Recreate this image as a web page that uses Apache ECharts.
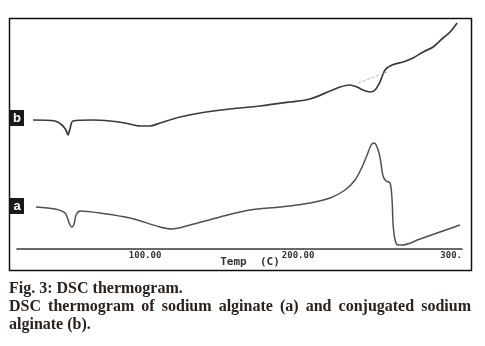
<!DOCTYPE html>
<html><head><meta charset="utf-8">
<script src="https://cdn.jsdelivr.net/npm/echarts@6/dist/echarts.min.js"></script>
<style>html,body{margin:0;padding:0;background:#fff}#c{width:485px;height:346px}</style>
</head><body><div id="c"></div>
<script>
// Temperature (°C) vs heat flow (arbitrary units)
var curveA = [[28.7,42],[41.1,40],[47.7,36],[50.9,24],[52.2,22],[53.6,25],[54.9,34],[57.5,38],[70.5,36],[90.2,31],[109.8,22],[117.6,20],[129.4,24],[149.0,32],[168.6,39],[188.2,42],[207.8,46],[220.9,51],[230.7,59],[237.2,69],[241.8,82],[245.1,94],[247.7,104],[249.6,106],[251.6,102],[253.6,91],[255.5,73],[257.5,68],[260.1,66],[261.4,49],[262.1,24],[263.4,9],[265.3,4],[267.9,4],[279.7,10],[292.7,17],[305.8,24]];
var curveB = [[26.8,129],[41.1,128],[45.7,124],[48.3,119],[49.6,114],[50.9,120],[52.9,128],[65.3,129],[77.1,128],[86.9,126],[96.7,123],[103.2,123],[109.8,126],[122.8,132],[135.9,136],[155.5,140],[175.1,143],[194.7,147],[207.8,150],[220.9,158],[227.4,162],[233.9,164],[238.5,162],[242.4,159],[247.0,157],[250.3,159],[253.5,167],[256.8,179],[261.4,184],[268.6,187],[275.1,191],[281.7,197],[288.2,202],[294.7,211],[299.3,217],[303.9,226]];
var baselineB = [[239.2,166],[258.2,177]];
var tickValues = [100,200,300];
var tickLabels = {100:'100.00',200:'200.00',300:'300.'};
var xTitle = 'Temp  (C)';
var captionTitle = 'Fig. 3: DSC thermogram.';
var captionLine2 = 'DSC thermogram of sodium alginate (a) and conjugated sodium';
var captionLine3 = 'alginate (b).';

var chart = echarts.init(document.getElementById('c'));
var capFont = 'bold 16px "Liberation Serif"';
var capColor = '#2a2220';
// justify line 2 across the frame width
var ctx = document.createElement('canvas').getContext('2d');
ctx.font = capFont;
var words = captionLine2.split(' ');
var left = 9, right = 471;
var totalW = 0; words.forEach(function(w){ totalW += ctx.measureText(w).width; });
var gap = (right - left - totalW) / (words.length - 1);
var graphics = [
  {type:'rect', shape:{x:9.5,y:18.5,width:462,height:252}, style:{fill:'none',stroke:'#111',lineWidth:1.5}, z:10},
  {type:'rect', shape:{x:10,y:110,width:14,height:16}, style:{fill:'#1a1a1a'}, z:11},
  {type:'text', x:17, y:118, style:{text:'b',fill:'#fff',font:'bold 13px "Liberation Sans"',align:'center',verticalAlign:'middle'}, z:12},
  {type:'rect', shape:{x:10,y:198,width:14,height:16}, style:{fill:'#1a1a1a'}, z:11},
  {type:'text', x:17, y:206, style:{text:'a',fill:'#fff',font:'bold 13px "Liberation Sans"',align:'center',verticalAlign:'middle'}, z:12},
  {type:'text', x:9, y:289, style:{text:captionTitle,fill:capColor,font:capFont,verticalAlign:'middle'}},
  {type:'text', x:9, y:325, style:{text:captionLine3,fill:capColor,font:capFont,verticalAlign:'middle'}}
];
var cx = left;
words.forEach(function(w){
  graphics.push({type:'text', x:cx, y:307, style:{text:w,fill:capColor,font:capFont,verticalAlign:'middle'}});
  cx += ctx.measureText(w).width + gap;
});

chart.setOption({
  animation:false,
  grid:{left:17,right:23,top:18,bottom:97},
  xAxis:{type:'value',min:16.3,max:307.1,
    axisLine:{show:true,lineStyle:{color:'#333',width:1.6,type:[2,1]}},
    axisTick:{show:false},splitLine:{show:false},
    axisLabel:{customValues:tickValues,formatter:function(v){return tickLabels[v]||'';},
      color:'#333',fontSize:9,fontWeight:'bold',fontFamily:'DejaVu Sans Mono',margin:2},
    name:xTitle,nameLocation:'middle',nameGap:8,nameMoveOverlap:false,
    nameTextStyle:{color:'#333',fontSize:11,fontWeight:'bold',fontFamily:'DejaVu Sans Mono',padding:[0,0,0,21]}},
  yAxis:{type:'value',min:0,max:231,show:false},
  series:[
    {type:'line',data:curveB,showSymbol:false,smooth:0.3,lineStyle:{color:'#3a3a3a',width:1.7}},
    {type:'line',data:curveA,showSymbol:false,smooth:0.3,lineStyle:{color:'#505050',width:1.5}},
    {type:'line',data:baselineB,showSymbol:false,lineStyle:{color:'#aaa',width:0.8,type:'dashed'}}
  ],
  graphic:graphics
});
</script></body></html>
